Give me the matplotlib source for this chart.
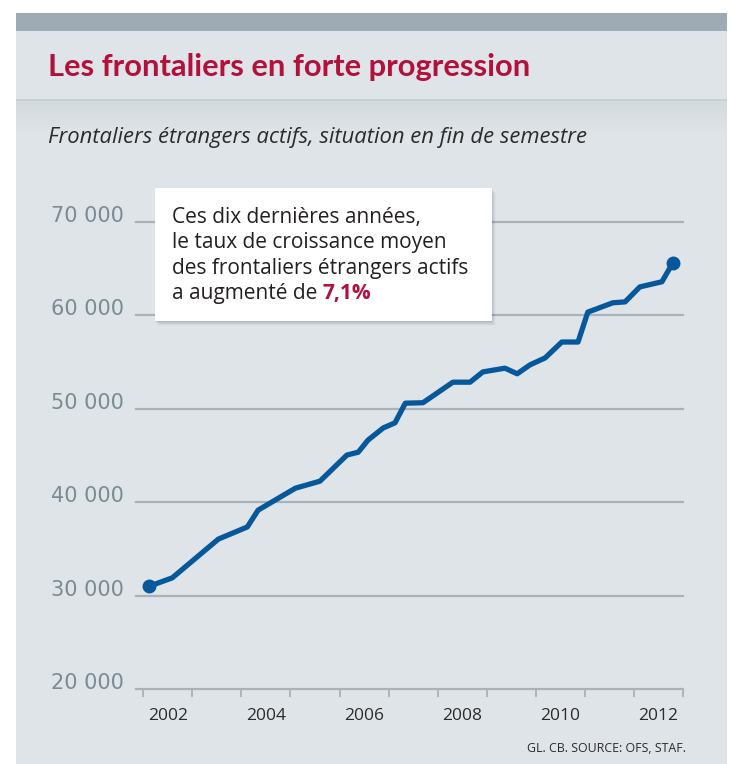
import matplotlib
matplotlib.use("Agg")
import matplotlib.pyplot as plt
import matplotlib.patches as mpatches
import numpy as np

# ---- data ----
years = [2002.12, 2002.59, 2003.53, 2004.12, 2004.34, 2005.10, 2005.60, 2006.15,
         2006.38, 2006.58, 2006.89, 2007.13, 2007.34, 2007.70, 2008.31, 2008.66,
         2008.92, 2009.37, 2009.62, 2009.88, 2010.19, 2010.53, 2010.86, 2011.06,
         2011.57, 2011.82, 2012.12, 2012.57, 2012.79]
values = [31000, 31900, 36050, 37350, 39150, 41500, 42250, 45050,
          45350, 46650, 47950, 48500, 50600, 50650, 52850, 52850,
          53950, 54350, 53750, 54700, 55450, 57150, 57150, 60350,
          61350, 61450, 63050, 63600, 65600]
y_ticks = [20000, 30000, 40000, 50000, 60000, 70000]
y_labels = ["20 000", "30 000", "40 000", "50 000", "60 000", "70 000"]
x_label_years = [2002, 2004, 2006, 2008, 2010, 2012]
x_tick_years = list(range(2002, 2014))

title = "Les frontaliers en forte progression"
subtitle = "Frontaliers étrangers actifs, situation en fin de semestre"
box_lines = ["Ces dix dernières années,", "le taux de croissance moyen",
             "des frontaliers étrangers actifs", "a augmenté de"]
box_highlight = "7,1%"
source = "GL. CB. SOURCE: OFS, STAF."

# ---- style ----
W, H = 734, 764
RED = "#b3103b"
BLUE = "#06589b"
GRID = "#a8b2b9"
PANEL = "#dfe4e8"
BAND = "#9eabb4"

fig = plt.figure(figsize=(W / 100, H / 100), dpi=100)
fig.patch.set_facecolor("white")

bg = fig.add_axes([0, 0, 1, 1], zorder=0)
bg.set_xlim(0, W)
bg.set_ylim(H, 0)
bg.axis("off")

# panel
bg.add_patch(mpatches.Rectangle((16, 13), 711, H - 13, facecolor=PANEL, edgecolor="none"))
bg.add_patch(mpatches.Rectangle((16, 13), 711, 18, facecolor=BAND, edgecolor="none"))
bg.add_patch(mpatches.Rectangle((16, 99), 711, 2, facecolor="#c8d0d5", edgecolor="none"))
grad = np.linspace(0, 1, 40)[:, None]
cmap = matplotlib.colors.LinearSegmentedColormap.from_list("g", ["#d3dade", PANEL])
bg.imshow(grad, extent=(16, 727, 135, 101), cmap=cmap, aspect="auto", zorder=1)

# titles
bg.text(48, 76, title, fontsize=22.2, fontweight="bold", color=RED,
        family=["Lato", "DejaVu Sans"], va="baseline", ha="left", zorder=3)
bg.text(48, 143, subtitle, fontsize=15.8, style="italic", color="#2b2b2b",
        family=["Open Sans", "DejaVu Sans"], va="baseline", ha="left", zorder=3)
bg.text(686, 752, source, fontsize=8.9, color="#2b2b2b",
        family=["Open Sans", "DejaVu Sans"], va="baseline", ha="right", zorder=3)

# ---- main axes ----
left_px, right_px, bot_px, top_px = 136, 683, 689, 200
ax = fig.add_axes([left_px / W, 1 - bot_px / H, (right_px - left_px) / W, (bot_px - top_px) / H], zorder=2)
ax.set_facecolor("none")
px_per_year = (682.7 - 143.3) / 11
ax.set_xlim(2002 - (143.3 - left_px) / px_per_year, 2013.0)
ax.set_ylim(20000, 20000 + (bot_px - top_px) / 93.4 * 10000)
for s in ax.spines.values():
    s.set_visible(False)

for v in y_ticks:
    ax.axhline(v, color=GRID, lw=1.6, zorder=1, clip_on=False)
ax.set_yticks([])
for v, lab in zip(y_ticks, y_labels):
    ax.annotate(lab, xy=(0, v), xycoords=ax.get_yaxis_transform(), xytext=(-12, 0),
                textcoords="offset pixels", ha="right", va="baseline",
                fontsize=15, color="#7b8b94", family="DejaVu Sans", annotation_clip=False)

ax.set_xticks(x_tick_years)
ax.set_xticklabels([])
ax.tick_params(axis="x", which="major", length=6, width=1.3, color=GRID, direction="out")
ax.set_xticks([y + 0.5 for y in x_label_years], minor=True)
ax.set_xticklabels([str(y) for y in x_label_years], minor=True)
ax.tick_params(axis="x", which="minor", length=0, pad=14, labelsize=12.5, labelcolor="#2b2b2b")
for t in ax.get_xticklabels(minor=True):
    t.set_family(["Open Sans", "DejaVu Sans"])

ax.plot(years, values, color=BLUE, lw=3.8, solid_joinstyle="round", solid_capstyle="round", zorder=4, clip_on=False)
ax.plot([years[0], years[-1]], [values[0], values[-1]], "o", color=BLUE, ms=9, zorder=5, clip_on=False)

# ---- callout box (overlay above the chart) ----
fg = fig.add_axes([0, 0, 1, 1], zorder=5)
fg.set_xlim(0, W)
fg.set_ylim(H, 0)
fg.axis("off")
fg.patch.set_visible(False)
bx0, by0, bx1, by1 = 155, 188, 492, 321
for i, a in enumerate([0.06, 0.05, 0.04, 0.03, 0.02]):
    d = i + 1
    fg.add_patch(mpatches.Rectangle((bx0 + d - 1, by0 + d), bx1 - bx0, by1 - by0,
                                    facecolor="black", alpha=a, edgecolor="none", zorder=1))
fg.add_patch(mpatches.Rectangle((bx0, by0), bx1 - bx0, by1 - by0, facecolor="white",
                                edgecolor="none", zorder=2))
baselines = [223, 248.3, 273.6, 299]
txt = None
for line, yb in zip(box_lines, baselines):
    txt = fg.text(172, yb, line, fontsize=15, color="#231f20", family=["Open Sans", "DejaVu Sans"],
                  va="baseline", ha="left", zorder=3)
fg.annotate(box_highlight, xy=(1, 0), xycoords=txt, xytext=(5, 0), textcoords="offset pixels",
            fontsize=15, fontweight="bold", color=RED, family=["Open Sans", "DejaVu Sans"],
            va="bottom", ha="left", zorder=3)

fig.savefig("out.png", dpi=100, facecolor="white")
